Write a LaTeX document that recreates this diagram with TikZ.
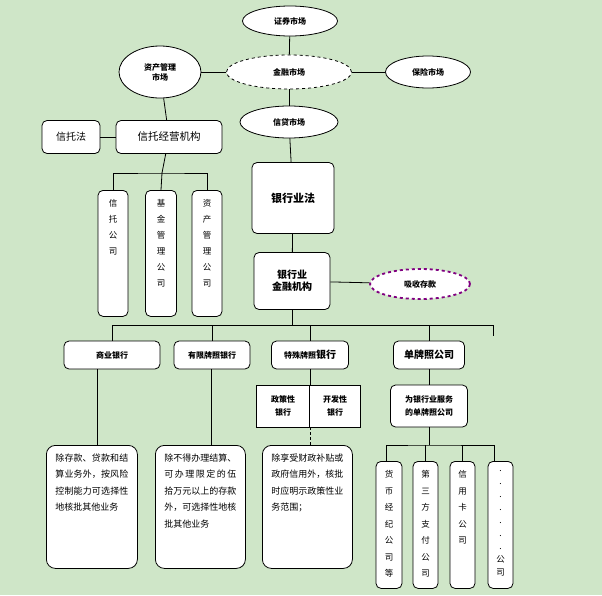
\documentclass[tikz,border=0pt]{standalone}
\usepackage{fontspec}
\setmainfont{Noto Sans CJK SC}
\XeTeXlinebreaklocale "zh"
\XeTeXlinebreakskip=0pt plus 1pt
\usetikzlibrary{shapes.geometric}
\definecolor{bg}{RGB}{207,230,200}
\definecolor{purp}{RGB}{128,0,128}
\newcommand{\topbox}[3]{\parbox[t][#1][t]{#2}{\centering\vspace*{6pt}#3}}
\tikzset{
  mkt/.style={draw, ellipse, fill=white, inner sep=0pt, font=\fontsize{8}{10}\selectfont\bfseries},
  rbox/.style={draw, rounded corners=5pt, fill=white, inner sep=2pt, align=center},
  vbox/.style={draw, rounded corners=5pt, fill=white, anchor=north, inner xsep=0pt, inner ysep=3pt,
    font=\fontsize{8.5}{16}\selectfont},
  tbox/.style={draw, rounded corners=9pt, fill=white, anchor=north west,
    font=\fontsize{9}{16.5}\selectfont, inner xsep=9pt, inner ysep=3pt}
}
\begin{document}
\begin{tikzpicture}[x=1pt,y=-1pt, line width=0.8pt]
\fill[bg] (0,0) rectangle (602,595);
\useasboundingbox (0,0) rectangle (602,595);
% markets
\node(zq) at (290,21) [mkt, minimum width=95, minimum height=30]{证券市场};
\node(jr) at (289,72) [mkt, dashed, minimum width=125, minimum height=34]{金融市场};
\node(bx) at (428,72) [mkt, minimum width=85, minimum height=32]{保险市场};
\node(zc) at (160,72) [mkt, minimum width=82, minimum height=52, align=center]{资产管理\\市场};
\node(xd) at (289,122) [mkt, minimum width=98, minimum height=32]{信贷市场};
\draw (zq) -- (jr);
\draw (jr) -- (bx);
\draw (jr) -- (zc);
\draw (jr) -- (xd);
% trust side
\node(xtf) at (71,137) [rbox, minimum width=58, minimum height=33, font=\fontsize{10}{12}\selectfont]{信托法};
\node(xtjg) at (169,137) [rbox, minimum width=106, minimum height=33, font=\fontsize{10.5}{12}\selectfont]{信托经营机构};
\draw (xtf) -- (xtjg);
\draw (zc) -- (xtjg);
\node(xtgs) at (113,190) [vbox]{\topbox{120pt}{30pt}{信\\托\\公\\司}};
\node(jjgs) at (161,190) [vbox]{\topbox{120pt}{31pt}{基\\金\\管\\理\\公\\司}};
\node(zcgs) at (207,190) [vbox]{\topbox{120pt}{30pt}{资\\产\\管\\理\\公\\司}};
\coordinate(b1) at (162,173);
\draw (xtjg) -- (b1);
\draw (xtgs.north) |- (b1) -| (zcgs.north);
\draw (b1) -- (jjgs.north);
% bank side
\node(yhf) at (293,198) [rbox, minimum width=82, minimum height=71, font=\fontsize{11}{13}\selectfont\bfseries]{银行业法};
\node(yhjg) at (292,281) [rbox, minimum width=76, minimum height=57, font=\fontsize{10}{12}\selectfont\bfseries]{银行业\\金融机构};
\node(xs) at (420,284) [mkt, draw=purp, dashed, line width=1.8pt, minimum width=100, minimum height=30]{吸收存款};
\draw (xd) -- (yhf);
\draw (yhf) -- (yhjg);
\draw (yhjg) -- (xs);
% second row
\tikzset{row/.style={rbox, minimum height=28, font=\fontsize{8}{10}\selectfont\bfseries}}
\node(sy) at (112,355) [row, minimum width=96]{商业银行};
\node(yx) at (212,355) [row, minimum width=76]{有限牌照银行};
\node(ts) at (310,355) [row, minimum width=77]{特殊牌照\fontsize{10}{12}\selectfont 银行};
\node(dp) at (429,355) [row, minimum width=71, font=\fontsize{10}{12}\selectfont\bfseries]{单牌照公司};
\coordinate(bus) at (292,325);
\draw (yhjg) -- (bus);
\draw (sy.north) |- (bus);
\draw (yx.north) -- (yx.north |- bus);
\draw (ts.north) -- (ts.north |- bus);
\draw (dp.north) -- (dp.north |- bus);
\draw (bus) -| (493,336);
% sub boxes
\node(zc2) at (283,406) [draw, fill=white, minimum width=54, minimum height=42, align=center, font=\fontsize{8}{13}\selectfont\bfseries]{政策性\\银行};
\node(kf) at (335,406) [draw, fill=white, minimum width=51, minimum height=42, align=center, font=\fontsize{8}{13}\selectfont\bfseries]{开发性\\银行};
\node(wy) at (429,406) [rbox, minimum width=77, minimum height=42, font=\fontsize{8}{13}\selectfont\bfseries]{为银行业服务\\的单牌照公司};
\draw (ts) -- (ts |- zc2.north);
\draw (dp) -- (wy);
% text boxes
\node(t1) at (46,445) [tbox]{\parbox[t][117pt][t]{73pt}{\vspace*{5pt}除存款、贷款和结算业务外，按风险控制能力可选择性地核批其他业务}};
\node(t2) at (155,445) [tbox]{\parbox[t][117pt][t]{72pt}{\vspace*{5pt}除不得办理结算、可办理限定的伍拾万元以上的存款外，可选择性地核批其他业务}};
\node(t3) at (262,445) [tbox]{\parbox[t][117pt][t]{72pt}{\vspace*{5pt}除享受财政补贴或政府信用外，核批时应明示政策性业务范围；}};
\draw (97,369) -- (97,445);
\draw (211,369) -- (211,445);
\draw[densely dashed] (310,427) -- (310,445);
% bottom companies
\tikzset{cbox/.style={vbox, font=\fontsize{8.5}{16.5}\selectfont}}
\node(h1) at (389,461) [cbox]{\topbox{121pt}{26pt}{货\\币\\经\\纪\\公\\司\\等}};
\node(h2) at (425.5,461) [cbox]{\topbox{121pt}{25pt}{第\\三\\方\\支\\付\\公\\司}};
\node(h3) at (462.5,461) [cbox]{\topbox{121pt}{25pt}{信\\用\\卡\\公\\司}};
\node(h4) at (500.5,461) [cbox, font=\fontsize{8.5}{13}\selectfont]{\topbox{121pt}{25pt}{.\\.\\.\\.\\.\\.\\.\\公\\司}};
\coordinate(b2) at (429,445);
\draw (wy) -- (b2);
\draw (386,461) |- (b2) -| (494,461);
\draw (h2.north |- b2) -- (h2.north);
\draw (h3.north |- b2) -- (h3.north);
\end{tikzpicture}
\end{document}
